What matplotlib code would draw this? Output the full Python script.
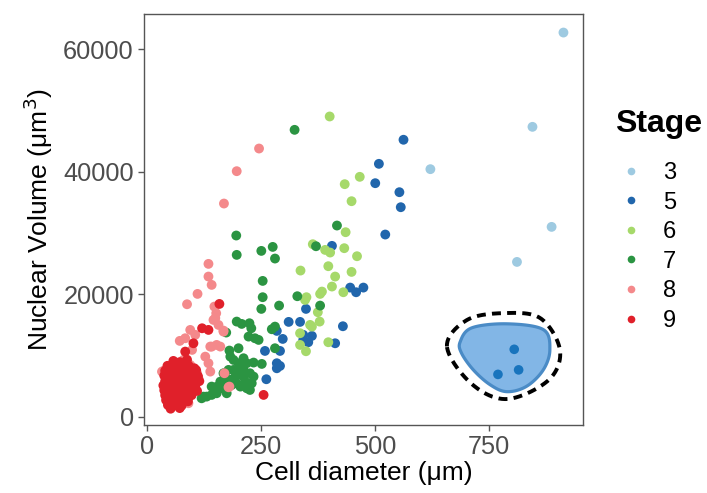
import numpy as np
import matplotlib
matplotlib.use('Agg')
import matplotlib.pyplot as plt
from matplotlib.lines import Line2D
from matplotlib.patches import Polygon

plt.rcParams['font.family'] = ['Liberation Sans', 'DejaVu Sans']

# stage -> (cell diameter um, nuclear volume um^3)
stage3_x = [914, 846, 622, 888, 812]
stage3_y = [62700, 47310, 40400, 30980, 25260]

stage5_x = [563, 509, 501, 554, 557, 523, 406, 446, 459, 475, 349, 311, 336, 430,
            285, 343, 362, 354, 298, 413, 259, 292, 285, 292, 262, 343, 285]
stage5_y = [45200, 41270, 38110, 36640, 34190, 29730, 27880, 21070, 20310, 21070,
            17590, 15470, 15470, 14760, 14000, 13350, 13180, 12150, 12690, 11980,
            10730, 10730, 8720, 8280, 6110, 12530, 7900]

stage6_x = [401, 434, 467, 449, 436, 433, 461, 364, 391, 402, 337, 398, 413, 449,
            406, 384, 380, 431, 350, 347, 375, 379, 358, 362, 336, 398, 336, 349]
stage6_y = [49000, 37950, 39150, 35170, 30110, 27500, 26190, 28150, 27220, 26790,
            23850, 24560, 22870, 23630, 21240, 20420, 20040, 20310, 19500, 19060,
            17050, 15520, 14980, 14700, 13620, 12150, 11710, 10680]

stage7_x = [324, 196, 197, 251, 276, 281, 254, 254, 251, 290, 330, 380, 417, 371,
            197, 208, 225, 229, 274, 281, 223, 237, 245, 174, 181, 201, 281, 252, 234,
            120, 131, 142, 153, 142, 164, 175, 205, 219, 226, 183, 168, 190, 205, 219,
            190, 212, 183, 226, 234, 212, 197, 175, 197, 179, 201, 194, 172, 186, 208,
            216, 230, 161, 154, 124, 212]
stage7_y = [46820, 29570, 26410, 27060, 27710, 25810, 22160, 19500, 17590, 18130,
            19660, 18130, 31200, 27820, 15520, 15140, 15250, 14430, 14270, 14700,
            13070, 12800, 12530, 13730, 10790, 11170, 11170, 8610, 8830,
            3000, 3275, 3550, 3820, 4910, 4640, 3820, 4910, 4640, 4360, 6000, 7085,
            7630, 8170, 8720, 9260, 9535, 9800, 7085, 6540, 6540, 6810, 5450, 5450,
            7630, 8720, 6540, 6270, 5180, 7360, 5720, 5450, 5720, 4900, 3270, 7630]

stage8_x = [246, 197, 169, 135, 135, 142, 111, 88, 148, 152, 146, 95, 106, 72, 84,
            168, 139, 153, 161, 128, 135, 139, 110, 170, 181, 91, 36, 99, 150, 157,
            168, 142, 95, 80, 113, 179, 102, 33]
stage8_y = [43770, 40070, 34790, 24940, 22870, 21510, 20040, 18350, 17970, 16880,
            15790, 14160, 13350, 12370, 12800, 14050, 11440, 11710, 11440, 9800,
            8720, 7360, 7085, 7085, 4910, 2190, 7460, 10900, 16070, 14975, 13880,
            11430, 8440, 9260, 6270, 4800, 4640, 7350]

stage9_x = [159, 121, 135, 102, 84, 66, 256,
            58, 72, 88,
            45, 55, 66, 78, 92, 104,
            40, 50, 61, 70, 82, 95, 108,
            38, 47, 56, 65, 74, 85, 96, 112,
            40, 49, 58, 67, 77, 88, 100, 115,
            36, 45, 54, 63, 72, 82, 93, 106,
            38, 47, 56, 65, 74, 84, 95, 110,
            40, 49, 58, 67, 76, 86, 98,
            42, 51, 60, 69, 78, 90,
            46, 56, 66, 76,
            52, 72]
stage9_y = [18400, 14430, 14160, 11980, 10620, 8720, 3550,
            9100, 8900, 9300,
            8300, 8000, 8400, 8100, 8300, 7900,
            7500, 7300, 7600, 7200, 7500, 7300, 7600,
            6700, 6500, 6800, 6400, 6700, 6500, 6800, 6600,
            5800, 6000, 5700, 5900, 5600, 5900, 5700, 5800,
            5100, 4900, 5200, 4800, 5100, 4900, 5200, 5000,
            4300, 4100, 4400, 4000, 4300, 4100, 4400, 4200,
            3500, 3300, 3600, 3200, 3500, 3300, 3500,
            2700, 2500, 2800, 2400, 2700, 2500,
            1900, 1700, 2000, 1800,
            1300, 1400]

stages = ['3', '5', '6', '7', '8', '9']
colors = ['#9ecae1', '#2166ac', '#a6d96a', '#2b9442', '#f4898b', '#e0202a']
xs = [stage3_x, stage5_x, stage6_x, stage7_x, stage8_x, stage9_x]
ys = [stage3_y, stage5_y, stage6_y, stage7_y, stage8_y, stage9_y]

# outline of the little cell drawing, in axes fraction
cell_outline = [(0.72, 0.202), (0.746, 0.236), (0.826, 0.246), (0.909, 0.232),
                (0.924, 0.183), (0.909, 0.134), (0.871, 0.094), (0.826, 0.081),
                (0.788, 0.098), (0.75, 0.134), (0.723, 0.175)]
cell_border = [(0.69, 0.191), (0.735, 0.255), (0.818, 0.272), (0.902, 0.26),
               (0.947, 0.182), (0.921, 0.109), (0.826, 0.063), (0.745, 0.101)]
nuclei = [(0.843, 0.184), (0.806, 0.123), (0.853, 0.134)]


def catmull_closed(pts, n=24):
    p = np.array(pts)
    out = []
    t = np.linspace(0, 1, n, endpoint=False)[:, None]
    for i in range(len(p)):
        p0, p1, p2, p3 = p[i - 1], p[i], p[(i + 1) % len(p)], p[(i + 2) % len(p)]
        out.append(0.5 * (2 * p1 + (-p0 + p2) * t
                          + (2 * p0 - 5 * p1 + 4 * p2 - p3) * t ** 2
                          + (-p0 + 3 * p1 - 3 * p2 + p3) * t ** 3))
    return np.vstack(out)


fig = plt.figure(figsize=(7.07, 4.93), dpi=100)
ax = fig.add_axes([0.203, 0.138, 0.622, 0.834])

for x, y, c in zip(xs, ys, colors):
    ax.scatter(x, y, s=50, color=c, edgecolors='none', zorder=3)

ax.set_xlim(-7.5, 957.5)
ax.set_ylim(-1355, 65760)
ax.set_xticks([0, 250, 500, 750])
ax.set_yticks([0, 20000, 40000, 60000])

for s in ax.spines.values():
    s.set_color('#555555')
    s.set_linewidth(1.0)
ax.tick_params(colors='#555555', labelcolor='#4d4d4d', labelsize=18.3,
               length=4, width=1.0, pad=3)

ax.set_xlabel('Cell diameter (μm)', fontsize=19, labelpad=2)
ax.set_ylabel('Nuclear Volume (μm$^3$)', fontsize=19, labelpad=6)

# cell sketch
body = Polygon(catmull_closed(cell_outline), closed=True, transform=ax.transAxes,
               facecolor='#82b6e6', edgecolor='#4a8bc6', linewidth=2.3, zorder=4)
ax.add_patch(body)
ring = catmull_closed(cell_border)
ring = np.vstack([ring, ring[:1]])
ax.plot(ring[:, 0], ring[:, 1], transform=ax.transAxes, color='black',
        linewidth=2.8, dashes=(2.3, 1.6), dash_capstyle='butt', zorder=4)
for nx, ny in nuclei:
    ax.scatter(nx, ny, s=48, color='#1874bd', edgecolors='none',
               transform=ax.transAxes, zorder=5)

fig.text(0.87, 1 - 124 / 493, 'Stage', fontsize=23, fontweight='bold',
         ha='left', va='center')
handles = [Line2D([], [], marker='o', linestyle='none', markersize=5.5,
                  markerfacecolor=c, markeredgecolor='none') for c in colors]
fig.legend(handles, stages, loc='upper left',
           bbox_to_anchor=(0.876, 1 - 162 / 493), frameon=False, fontsize=17,
           labelspacing=0.32, handletextpad=0.84, handlelength=1.0,
           borderaxespad=0, borderpad=0)

fig.savefig('out.png', dpi=100)
